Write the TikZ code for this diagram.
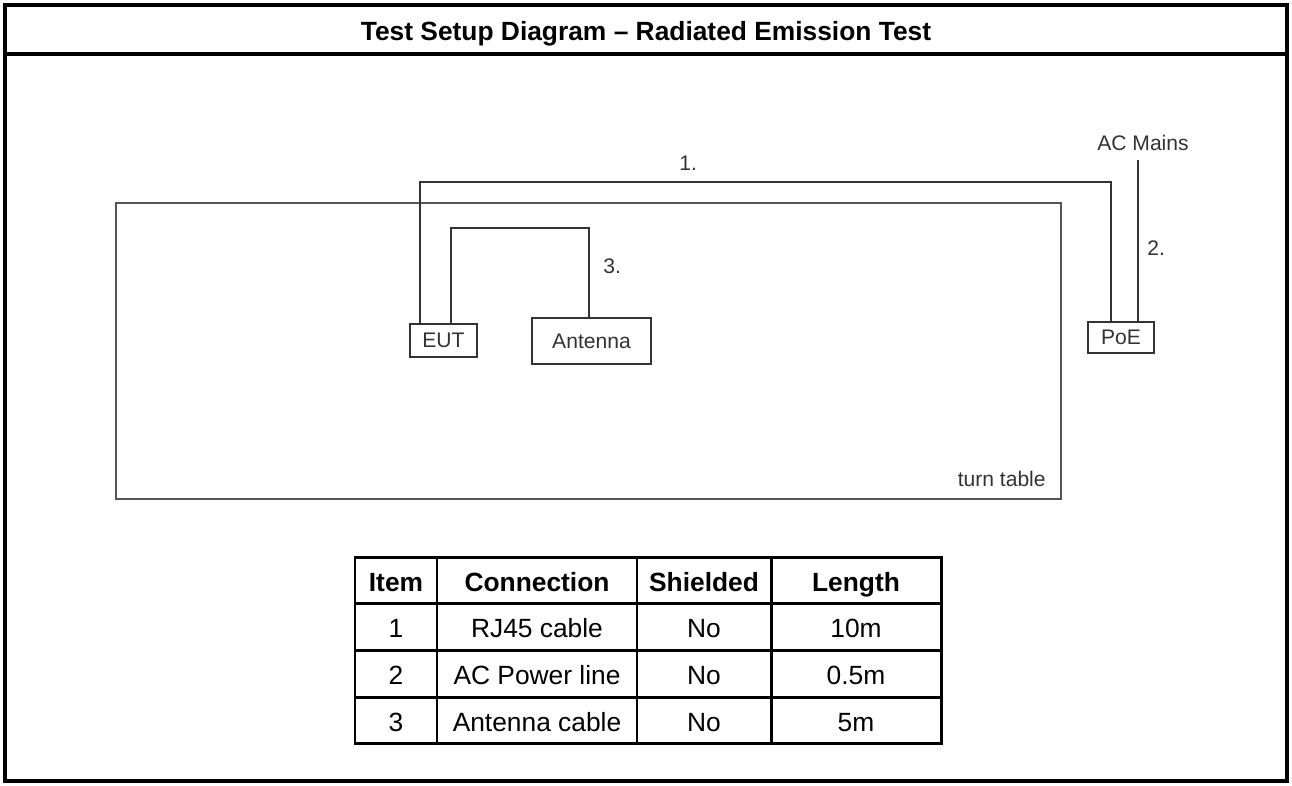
\documentclass[tikz,border=0pt]{standalone}
\usepackage{fontspec}
\setmainfont{Liberation Sans}
\usetikzlibrary{positioning}
\definecolor{cablegray}{HTML}{333333}
\definecolor{tablegray}{HTML}{555555}

\begin{document}
\begin{tikzpicture}[x=0.02cm, y=-0.02cm,
		box/.style={draw=cablegray, line width=0.6pt, inner sep=0pt, text=cablegray, font=\fontsize{12}{14}\selectfont},
		cable/.style={draw=cablegray, line width=0.6pt},
		lbl/.style={inner sep=0pt, text=cablegray, font=\fontsize{12}{14}\selectfont},
		cell/.style={inner sep=0pt, anchor=base, font=\fontsize{15}{18}\selectfont},
		grid/.style={line width=1.7pt}]
		\useasboundingbox (0,0) rectangle (1292,785);
		\draw[line width=2.4pt] (5,5) rectangle (1287,781);
		\node[anchor=base, inner sep=0pt, font=\bfseries\fontsize{15}{18}\selectfont] (title) at (646,40) {Test Setup Diagram -- Radiated Emission Test};
		\draw[line width=2pt] (5,54) -- (1287,54);

		\node[draw=tablegray, line width=0.8pt, minimum width=18.9cm, minimum height=5.92cm, inner sep=0pt] (tt) at (588.5,351) {};
		\node[lbl, anchor=base east] (ttlbl) at (1046,486) {turn table};

		\node[box, minimum width=1.34cm, minimum height=0.66cm] (eut) at (443.5,340.5) {EUT};
		\node[box, minimum width=2.38cm, minimum height=0.92cm] (ant) at (591.5,341) {Antenna};
		\node[box, minimum width=1.32cm, minimum height=0.62cm] (poe) at (1121,337.5) {PoE};
		\node[lbl, anchor=base] (mains) at (1143,150) {AC Mains};

		\coordinate (r1) at (420,182);
		\coordinate (r2) at (1111,182);
		\coordinate (p2) at (1138,160);
		\coordinate (a1) at (451,228);
		\coordinate (a2) at (589,228);
		\draw[cable] (eut.north -| r1) -- (r1) -- (r2) -- (r2 |- poe.north);
		\draw[cable] (p2) -- (p2 |- poe.north);
		\draw[cable] (eut.north -| a1) -- (a1) -- (a2) -- (ant.north -| a2);
		\node[lbl, anchor=base west] (n1) at (679,170) {1.};
		\node[lbl, anchor=base west] (n2) at (1147,255) {2.};
		\node[lbl, anchor=base west] (n3) at (603,273) {3.};

		\draw[grid] (355,557) rectangle (941,743);
		\foreach \lx in {437,637,771}
			\draw[grid] (\lx,557) -- (\lx,743);
		\foreach \ly in {603,650,697}
			\draw[grid] (355,\ly) -- (941,\ly);
		\foreach \cx/\txt [count=\i] in {396/Item, 537/Connection, 704/Shielded, 856/Length}
			\node[cell, font=\bfseries\fontsize{15}{18}\selectfont] (h\i) at (\cx,591) {\txt};
		\foreach \ry/\ca/\cb/\cc/\cd [count=\r] in {637/1/RJ45 cable/No/10m, 684/2/AC Power line/No/0.5m, 731/3/Antenna cable/No/5m} {
			\node[cell] (r\r a) at (396,\ry) {\ca};
			\node[cell] (r\r b) at (537,\ry) {\cb};
			\node[cell] (r\r c) at (704,\ry) {\cc};
			\node[cell] (r\r d) at (856,\ry) {\cd};
		}
\end{tikzpicture}
\end{document}
